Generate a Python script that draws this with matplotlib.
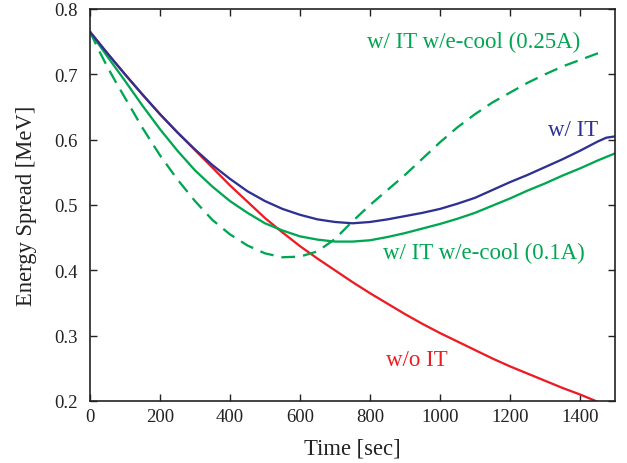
import matplotlib
matplotlib.use("Agg")
import matplotlib.pyplot as plt

plt.rcParams['font.family'] = ['Liberation Serif', 'DejaVu Serif']

# data
t_noit = [0, 50, 100, 150, 200, 250, 300, 350, 400, 450, 500, 550, 600, 650, 700, 750, 800, 850,
          900, 950, 1000, 1050, 1100, 1150, 1200, 1250, 1300, 1350, 1400, 1445]
v_noit = [0.765, 0.732, 0.700, 0.669, 0.639, 0.611, 0.584, 0.557, 0.530, 0.505, 0.480, 0.458, 0.437,
          0.418, 0.400, 0.382, 0.365, 0.349, 0.333, 0.318, 0.304, 0.291, 0.278, 0.265, 0.253, 0.242,
          0.231, 0.220, 0.210, 0.200]

t_it = [0, 50, 100, 150, 200, 250, 300, 350, 400, 450, 500, 550, 600, 650, 700, 750, 800, 850,
        900, 950, 1000, 1050, 1100, 1150, 1200, 1250, 1300, 1350, 1400, 1450, 1475, 1500]
v_it = [0.765, 0.732, 0.700, 0.669, 0.639, 0.611, 0.585, 0.561, 0.540, 0.521, 0.506, 0.494, 0.485,
        0.478, 0.474, 0.472, 0.474, 0.478, 0.483, 0.488, 0.494, 0.502, 0.511, 0.523, 0.535, 0.546,
        0.558, 0.570, 0.583, 0.597, 0.603, 0.605]

t_cool01 = [0, 50, 100, 150, 200, 250, 300, 350, 400, 450, 500, 550, 600, 650, 700, 750, 800, 850,
            900, 950, 1000, 1050, 1100, 1150, 1200, 1250, 1300, 1350, 1400, 1450, 1500]
v_cool01 = [0.765, 0.727, 0.690, 0.652, 0.616, 0.583, 0.553, 0.528, 0.506, 0.488, 0.472, 0.461, 0.452,
            0.447, 0.444, 0.444, 0.446, 0.451, 0.457, 0.464, 0.471, 0.479, 0.488, 0.499, 0.510, 0.522,
            0.533, 0.545, 0.556, 0.568, 0.579]

t_cool025 = [0, 25, 50, 75, 100, 150, 200, 250, 300, 350, 400, 450, 500, 550, 600, 650, 700, 750,
             800, 850, 900, 950, 1000, 1050, 1100, 1150, 1200, 1250, 1300, 1350, 1400, 1460]
v_cool025 = [0.765, 0.737, 0.711, 0.687, 0.664, 0.618, 0.576, 0.539, 0.506, 0.477, 0.455, 0.438, 0.426,
             0.420, 0.421, 0.429, 0.448, 0.475, 0.500, 0.523, 0.546, 0.571, 0.596, 0.619, 0.639, 0.657,
             0.672, 0.687, 0.700, 0.712, 0.722, 0.734]

xticks = [0, 200, 400, 600, 800, 1000, 1200, 1400]
yticks = [0.2, 0.3, 0.4, 0.5, 0.6, 0.7, 0.8]

RED = '#ED1C24'
BLUE = '#2E3192'
GREEN = '#00A651'
INK = '#222222'

fig = plt.figure(figsize=(6.27, 4.64), dpi=100)
ax = fig.add_axes([90/627, 1-402/464, (615-90)/627, (402-10)/464])

lw = 1.65
ax.plot(t_noit, v_noit, color=RED, lw=lw)
ax.plot(t_cool01, v_cool01, color=GREEN, lw=lw)
ax.plot(t_cool025, v_cool025, color=GREEN, lw=lw, dashes=(6.0, 3.5))
ax.plot(t_it, v_it, color=BLUE, lw=lw)

ax.set_xlim(0, 1500)
ax.set_ylim(0.2, 0.8)
ax.set_xticks(xticks)
ax.set_yticks(yticks)
ax.set_xticklabels([str(x) for x in xticks])
ax.set_yticklabels([f"{y:.1f}" for y in yticks])
ax.tick_params(direction='in', length=5, width=1.0, top=True, right=True,
               labelsize=13.5, colors=INK)
ax.tick_params(axis='x', pad=5)
ax.tick_params(axis='y', pad=9)
for s in ax.spines.values():
    s.set_linewidth(1.2)
    s.set_color(INK)

ax.set_xlabel('Time [sec]', fontsize=16.3, color=INK, labelpad=9)
ax.set_ylabel('Energy Spread [MeV]', fontsize=16.3, color=INK, labelpad=12)

fs = 16.5
ax.text(791, 0.751, 'w/ IT w/e-cool (0.25A)', color=GREEN, fontsize=fs, ha='left', va='center')
ax.text(1309, 0.616, 'w/ IT', color=BLUE, fontsize=fs, ha='left', va='center')
ax.text(837, 0.428, 'w/ IT w/e-cool (0.1A)', color=GREEN, fontsize=fs, ha='left', va='center')
ax.text(846, 0.264, 'w/o IT', color=RED, fontsize=fs, ha='left', va='center')

fig.savefig('out.png', dpi=100)
